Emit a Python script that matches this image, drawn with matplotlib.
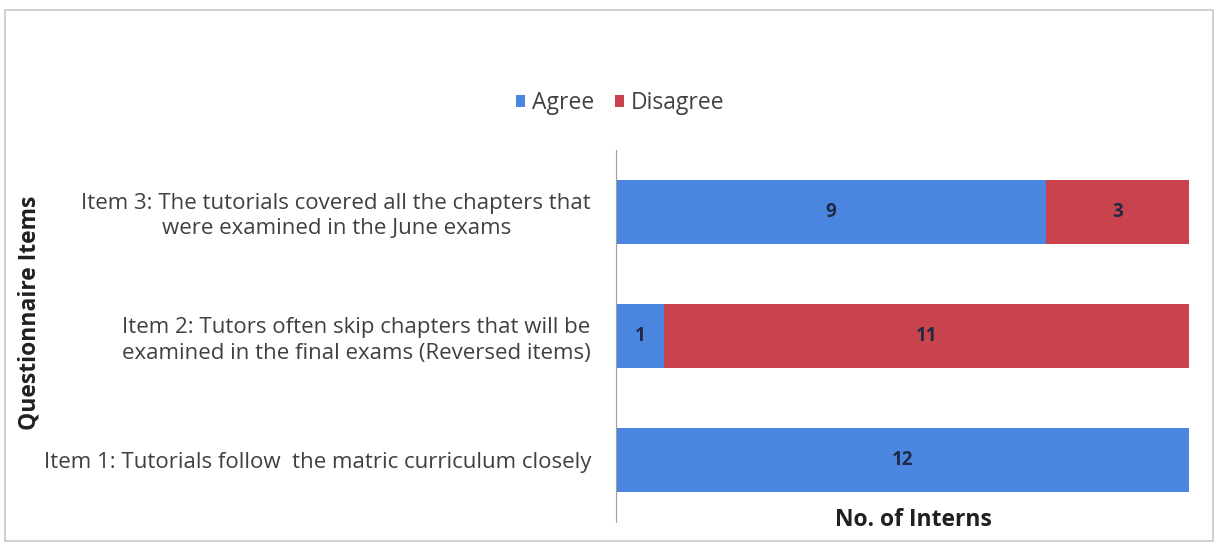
import numpy as np
import matplotlib.pyplot as plt
from matplotlib.patches import Rectangle

items = [
    'Item 1: Tutorials follow  the matric curriculum closely',
    'Item 2: Tutors often skip chapters that will be\nexamined in the final exams (Reversed items)',
    'Item 3: The tutorials covered all the chapters that\nwere examined in the June exams',
]
agree = [12, 1, 9]
disagree = [0, 11, 3]

blue = '#4a86e0'
red = '#c9434f'

plt.rcParams['font.family'] = ['Open Sans', 'DejaVu Sans']

fig = plt.figure(figsize=(12.15, 5.46), dpi=100)
fig.patches.append(Rectangle((0.004, 0.01), 0.994, 0.972, transform=fig.transFigure,
                             fill=False, edgecolor='#c8c8c8', linewidth=1.2))
ax = fig.add_axes([616 / 1215, 24 / 546, 573 / 1215, 372 / 546])

y = np.arange(len(items))
h = 0.51
b1 = ax.barh(y, agree, height=h, color=blue, label='Agree')
b2 = ax.barh(y, disagree, height=h, left=agree, color=red, label='Disagree')

for bars, vals in ((b1, agree), (b2, disagree)):
    for rect, v in zip(bars, vals):
        if v == 0:
            continue
        ax.text(rect.get_x() + rect.get_width() / 2, rect.get_y() + rect.get_height() / 2,
                str(v), ha='center', va='center', fontsize=13.5, fontweight='bold',
                color='#1f2a44')

ax.set_xlim(0, 12)
ax.set_ylim(-0.5, 2.5)
ax.set_yticks(y)
ax.set_yticklabels(items, fontsize=16, color='#404040', ha='right',
                   multialignment='center', linespacing=1.25)
ax.tick_params(axis='y', length=0, pad=18)
ax.set_xticks([])
for s in ('top', 'right', 'bottom'):
    ax.spines[s].set_visible(False)
ax.spines['left'].set_color('#a0a0a0')

fig.text(913 / 1215, 1 - 520 / 546, 'No. of Interns', ha='center', va='center',
         fontsize=16.5, fontweight='bold', color='#202020')
fig.text(30 / 1215, 1 - 313 / 546, 'Questionnaire Items', rotation=90, ha='center', va='center',
         fontsize=16.5, fontweight='bold', color='#202020')

fig.legend(handles=[b1, b2], loc='center', bbox_to_anchor=(620 / 1215, 1 - 103 / 546), ncol=2,
           frameon=False, fontsize=16.5, handlelength=0.4, handleheight=0.4,
           handletextpad=0.3, columnspacing=0.9, labelcolor='#404040')

fig.savefig('out.png', dpi=100, facecolor='white')
